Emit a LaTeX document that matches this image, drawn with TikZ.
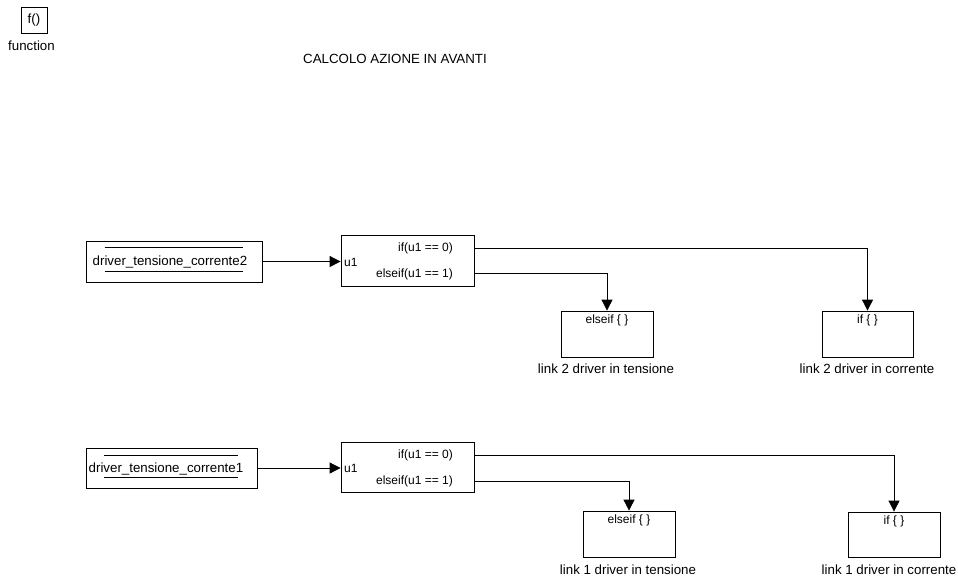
\documentclass[tikz,border=0pt]{standalone}
\usepackage{fontspec}
\setmainfont{Liberation Sans}
\usetikzlibrary{arrows.meta,calc}
\begin{document}
\begin{tikzpicture}[x=1pt,y=-1pt,
  lbl/.style={font=\fontsize{13.3}{15}\selectfont, inner sep=0pt},
  small/.style={font=\fontsize{12}{14}\selectfont, inner sep=0pt},
  blk/.style={draw, line width=0.8pt, inner sep=0pt},
  sig/.style={line width=0.8pt, -{Triangle[length=11pt,width=11pt]}},
  bar/.style={line width=0.8pt},
]
\useasboundingbox (0,0) rectangle (958,579);

% function-call block and title
\node[blk, minimum width=26pt, minimum height=26pt, lbl] (fn) at (34,20) {f()};
\node[lbl] (fnlbl) at (31.5,45.5) {function};
\node[lbl] (title) at (395,59) {CALCOLO AZIONE IN AVANTI};

% ---------- link 2 ----------
\node[blk, minimum width=176pt, minimum height=41pt] (drv2) at (174,261.5) {};
\node[lbl, anchor=west] (drv2txt) at (92.5,262) {driver\_tensione\_corrente2};
\draw[bar] ($(drv2.north west)+(19,7)$) -- ++(138,0);
\draw[bar] ($(drv2.north west)+(19,31)$) -- ++(138,0);

\node[blk, minimum width=133pt, minimum height=51pt] (sw2) at (407.5,260.5) {};
\node[small, anchor=east] (sw2a) at (453,248) {if(u1 == 0)};
\node[small, anchor=east] (sw2b) at (453,274) {elseif(u1 == 1)};
\node[small, anchor=west] (sw2u) at (344,262) {u1};
\coordinate (sw2if) at (474,248);
\coordinate (sw2el) at (474,273);

\draw[sig] (drv2.east) -- (drv2.east -| sw2.west);

\node[blk, minimum width=92pt, minimum height=46pt] (el2) at (607,334) {};
\node[small] (el2t) at ($(el2.north)+(0,10)$) {elseif \{ \}};
\node[lbl] (el2l) at (606,369) {link 2 driver in tensione};

\node[blk, minimum width=91pt, minimum height=46pt] (if2) at (867.5,334) {};
\node[small] (if2t) at ($(if2.north)+(0,10)$) {if \{ \}};
\node[lbl] (if2l) at (867,369) {link 2 driver in corrente};

\draw[sig] (sw2if) -| (if2.north);
\draw[sig] (sw2el) -| (el2.north);

% ---------- link 1 ----------
\node[blk, minimum width=171pt, minimum height=40pt] (drv1) at (171.5,468) {};
\node[lbl, anchor=west] (drv1txt) at (88.5,469) {driver\_tensione\_corrente1};
\draw[bar] ($(drv1.north west)+(18,8)$) -- ++(134,0);
\draw[bar] ($(drv1.north west)+(18,30)$) -- ++(134,0);

\node[blk, minimum width=133pt, minimum height=50pt] (sw1) at (407.5,467) {};
\node[small, anchor=east] (sw1a) at (453,455) {if(u1 == 0)};
\node[small, anchor=east] (sw1b) at (453,481) {elseif(u1 == 1)};
\node[small, anchor=west] (sw1u) at (344,468) {u1};
\coordinate (sw1if) at (474,455);
\coordinate (sw1el) at (474,481);

\draw[sig] (drv1.east) -- (drv1.east -| sw1.west);

\node[blk, minimum width=92pt, minimum height=46pt] (el1) at (629,534) {};
\node[small] (el1t) at ($(el1.north)+(0,10)$) {elseif \{ \}};
\node[lbl] (el1l) at (628,570) {link 1 driver in tensione};

\node[blk, minimum width=92pt, minimum height=45pt] (if1) at (894,534.5) {};
\node[small] (if1t) at ($(if1.north)+(0,10)$) {if \{ \}};
\node[lbl] (if1l) at (889,570) {link 1 driver in corrente};

\draw[sig] (sw1if) -| (if1.north);
\draw[sig] (sw1el) -| (el1.north);
\end{tikzpicture}
\end{document}
